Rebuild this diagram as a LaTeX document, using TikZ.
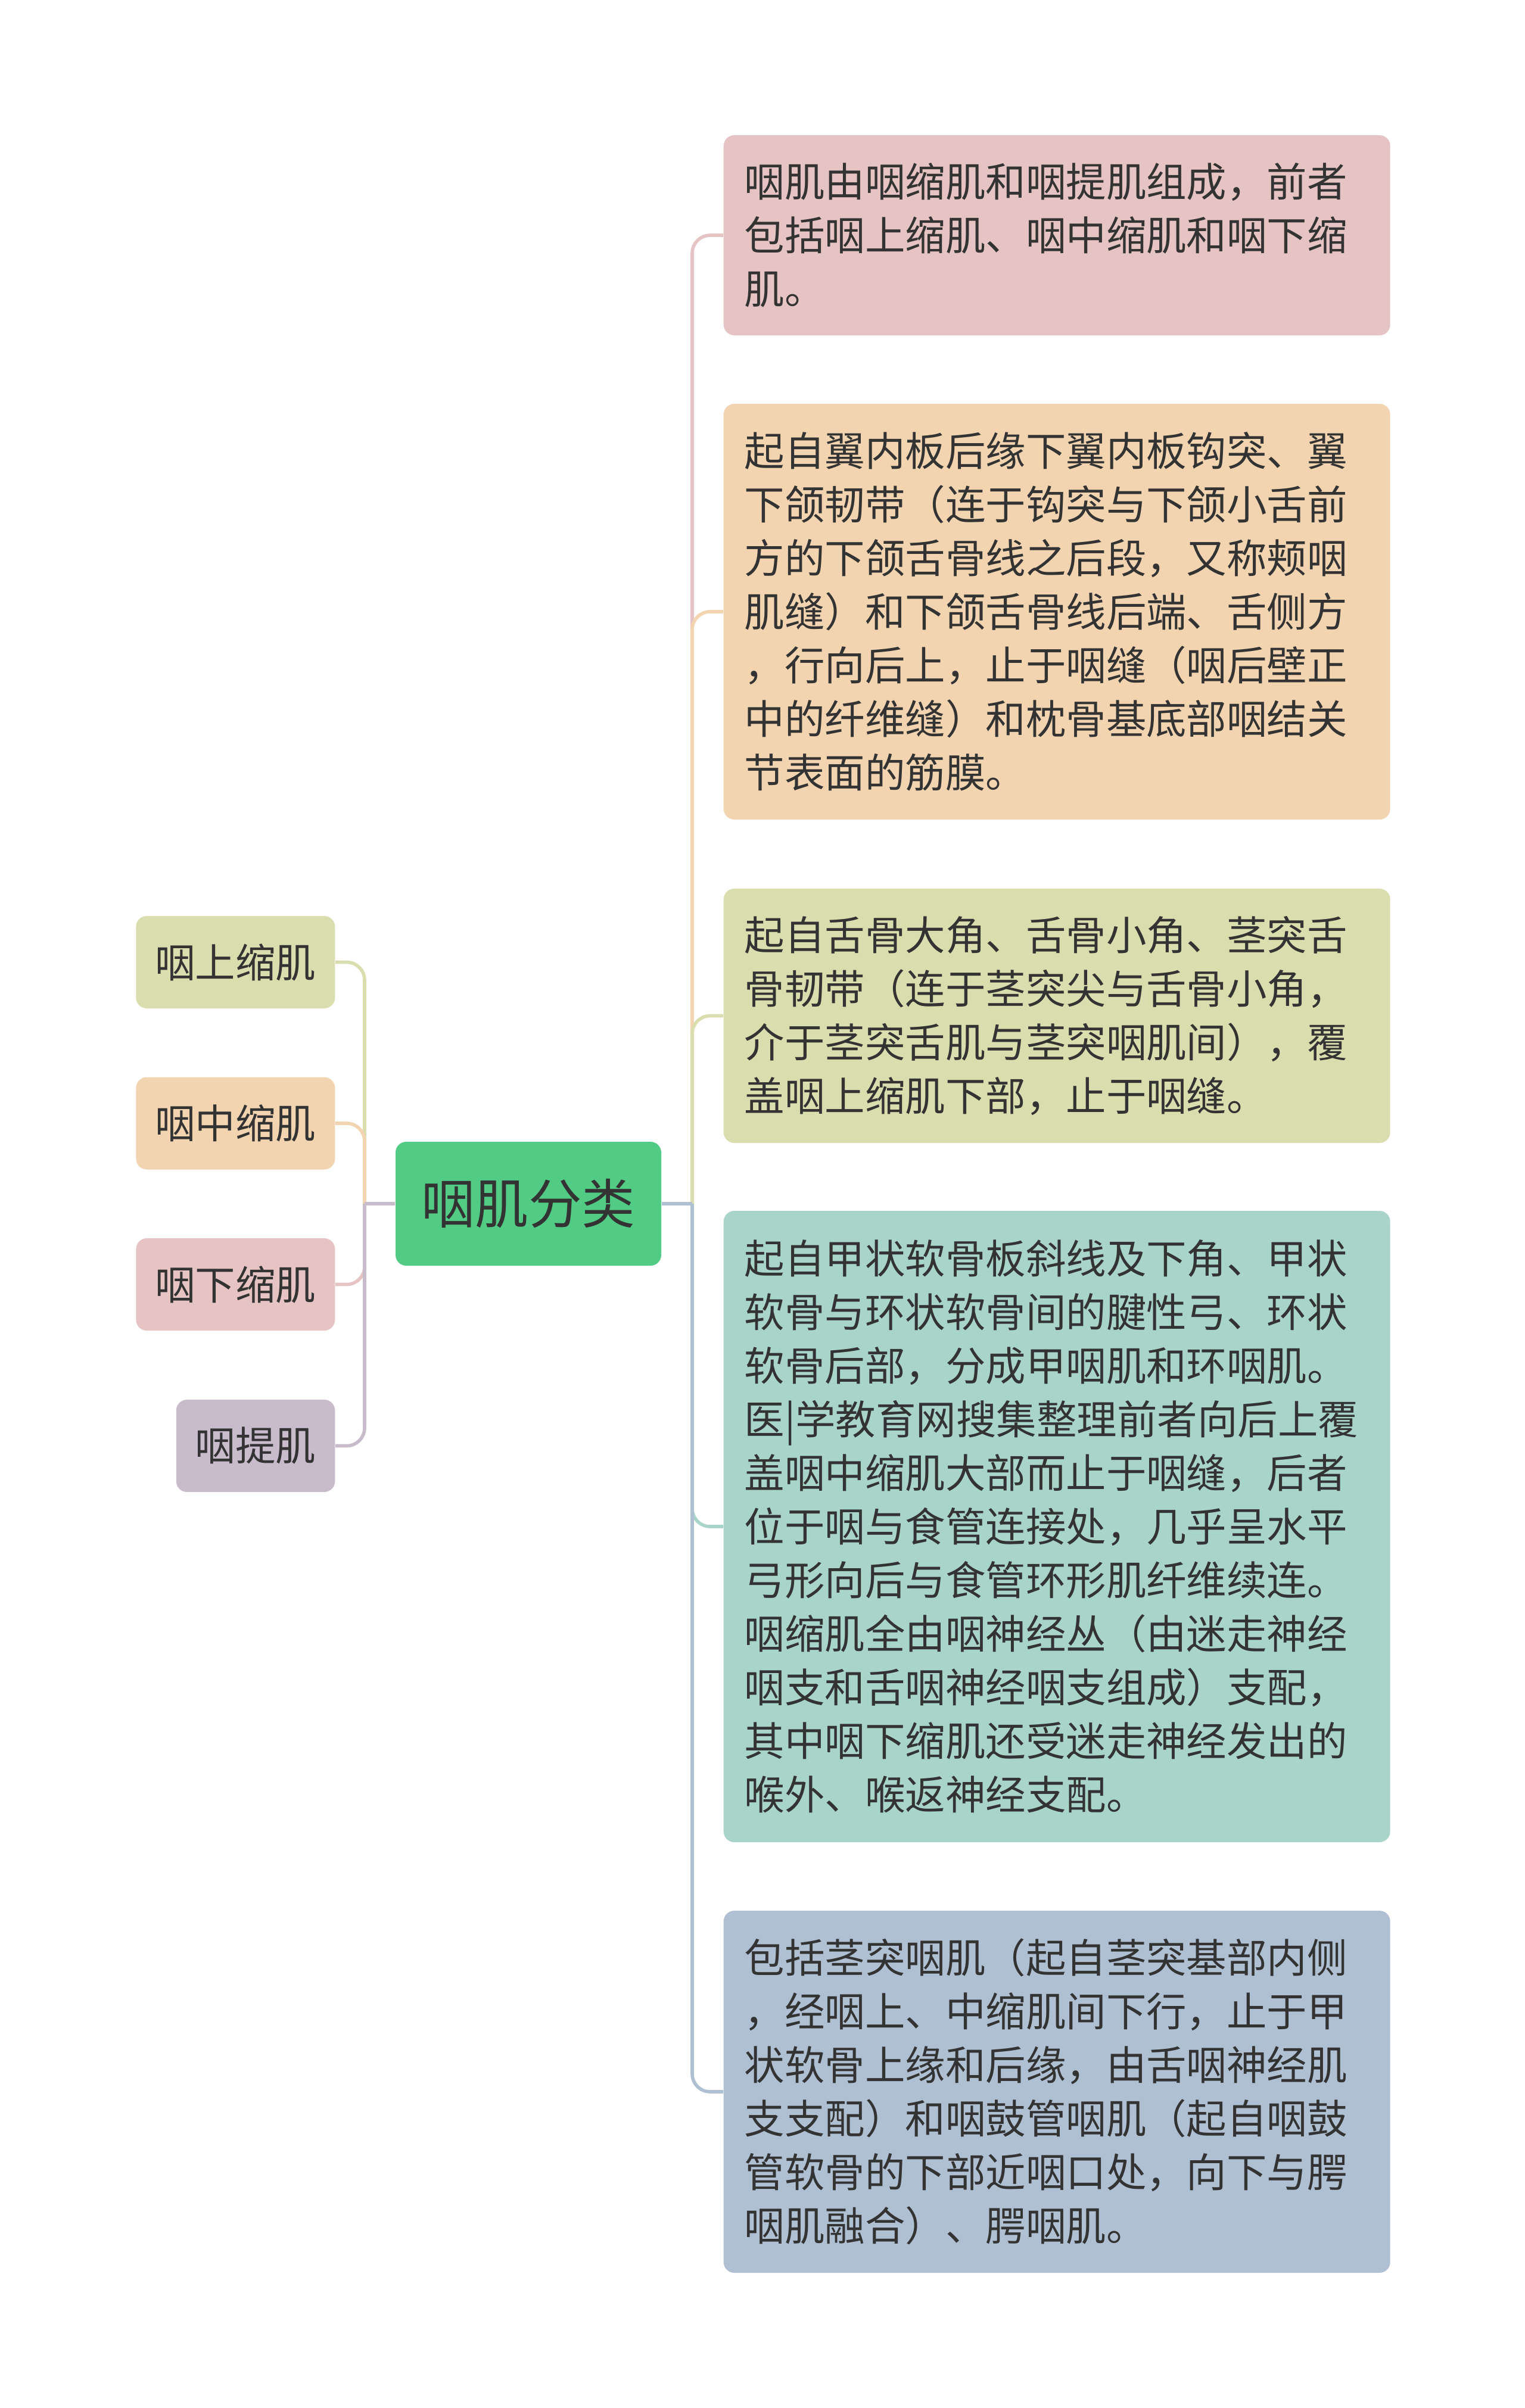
\documentclass[tikz,border=0pt]{standalone}
\usepackage{fontspec}
\setmainfont{Noto Sans CJK SC}
\usepackage{xcolor}
\usepackage{tikz}
\definecolor{textc}{HTML}{333333}
\definecolor{rootc}{HTML}{52CC84}
\definecolor{pinkc}{HTML}{E7C4C4}
\definecolor{orangec}{HTML}{F2D4B0}
\definecolor{olivec}{HTML}{DADDAE}
\definecolor{tealc}{HTML}{A9D4CA}
\definecolor{bluec}{HTML}{B0C0D3}
\definecolor{purplec}{HTML}{C8BBCC}
\tikzset{
	rootbox/.style={fill=rootc,rounded corners=0.18cm,minimum width=4.46cm,minimum height=2.08cm,
		inner sep=0pt,text=textc,font=\fontsize{25.5pt}{30pt}\selectfont},
	leafbox/.style={rounded corners=0.18cm,minimum height=1.55cm,inner xsep=0.32cm,inner ysep=0pt,
		anchor=east,text=textc,font=\fontsize{19.2pt}{25.6pt}\selectfont},
	notebox/.style={rounded corners=0.18cm,anchor=west,text width=10.49cm,inner xsep=0.35cm,inner ysep=0pt,
		align=left,text=textc,font=\fontsize{19.2pt}{25.6pt}\selectfont},
	conn/.style={line width=1.6pt,rounded corners=0.3cm}
}
\begin{document}
\begin{tikzpicture}
	\useasboundingbox (0,0) rectangle (25.6,-40.43);
	% centre
	\node[rootbox] (root) at (8.87,-20.21) {咽肌分类};
	\coordinate (ls) at (6.12,-20.21);
	\coordinate (rs) at (11.62,-20.21);
	% left side
	\node[leafbox,fill=olivec] (sup) at (5.63,-16.155) {咽上缩肌};
	\node[leafbox,fill=orangec] (mid) at (5.63,-18.86) {咽中缩肌};
	\node[leafbox,fill=pinkc] (inf) at (5.63,-21.565) {咽下缩肌};
	\node[leafbox,fill=purplec] (lev) at (5.63,-24.275) {咽提肌};
	% right side
	\node[notebox,fill=pinkc,minimum height=3.36cm] (n1) at (12.14,-3.95)
		{咽肌由咽缩肌和咽提肌组成，前者\\包括咽上缩肌、咽中缩肌和咽下缩\\肌。};
	\node[notebox,fill=orangec,minimum height=6.98cm] (n2) at (12.14,-10.27)
		{起自翼内板后缘下翼内板钩突、翼\\下颌韧带（连于钩突与下颌小舌前\\方的下颌舌骨线之后段，又称颊咽\\肌缝）和下颌舌骨线后端、舌侧方\\，行向后上，止于咽缝（咽后壁正\\中的纤维缝）和枕骨基底部咽结关\\节表面的筋膜。};
	\node[notebox,fill=olivec,minimum height=4.27cm] (n3) at (12.14,-17.055)
		{起自舌骨大角、舌骨小角、茎突舌\\骨韧带（连于茎突尖与舌骨小角，\\介于茎突舌肌与茎突咽肌间），覆\\盖咽上缩肌下部，止于咽缝。};
	\node[notebox,fill=tealc,minimum height=10.6cm] (n4) at (12.14,-25.63)
		{起自甲状软骨板斜线及下角、甲状\\软骨与环状软骨间的腱性弓、环状\\软骨后部，分成甲咽肌和环咽肌。\\医|学教育网搜集整理前者向后上覆\\盖咽中缩肌大部而止于咽缝，后者\\位于咽与食管连接处，几乎呈水平\\弓形向后与食管环形肌纤维续连。\\咽缩肌全由咽神经丛（由迷走神经\\咽支和舌咽神经咽支组成）支配，\\其中咽下缩肌还受迷走神经发出的\\喉外、喉返神经支配。};
	\node[notebox,fill=bluec,minimum height=6.08cm] (n5) at (12.14,-35.12)
		{包括茎突咽肌（起自茎突基部内侧\\，经咽上、中缩肌间下行，止于甲\\状软骨上缘和后缘，由舌咽神经肌\\支支配）和咽鼓管咽肌（起自咽鼓\\管软骨的下部近咽口处，向下与腭\\咽肌融合）、腭咽肌。};
	% connectors
	\draw[conn,olivec] (ls) |- (sup.east);
	\draw[conn,orangec] (ls) |- (mid.east);
	\draw[conn,pinkc] (ls) |- (inf.east);
	\draw[conn,purplec] (ls) |- (lev.east);
	\draw[conn,purplec] (root.west) -- (ls);
	\draw[conn,pinkc] (rs) |- (n1.west);
	\draw[conn,orangec] (rs) |- (n2.west);
	\draw[conn,olivec] (rs) |- (n3.west);
	\draw[conn,tealc] (rs) |- (n4.west);
	\draw[conn,bluec] (rs) |- (n5.west);
	\draw[conn,bluec] (root.east) -- (rs);
\end{tikzpicture}
\end{document}
